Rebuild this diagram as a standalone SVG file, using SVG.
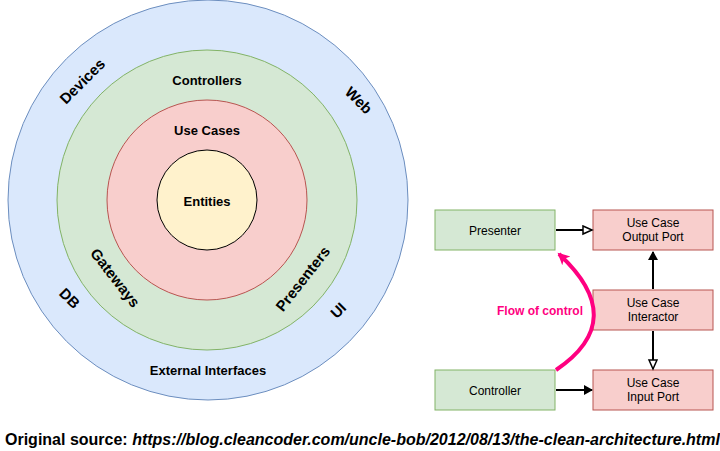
<svg xmlns="http://www.w3.org/2000/svg" width="720" height="451" viewBox="0 0 720 451">
<style>
text{font-family:"Liberation Sans",Arial,sans-serif;font-size:12px;fill:#000;text-anchor:middle}
.b{font-weight:bold;font-size:13px}
.o{font-weight:bold;font-size:15px}
.g{fill:#d5e8d4;stroke:#82b366}
.r{fill:#f8cecc;stroke:#b85450}
.ln{stroke:#000;stroke-width:2;fill:none}
</style>
<defs>
<marker id="af" markerWidth="10" markerHeight="10" refX="8" refY="5" orient="auto" markerUnits="userSpaceOnUse"><path d="M0,0 L9,5 L0,10 Z" fill="#000"/></marker>
<marker id="ao" markerWidth="12" markerHeight="12" refX="10" refY="5" orient="auto" markerUnits="userSpaceOnUse"><path d="M1,1 L10,5 L1,9 Z" fill="#fff" stroke="#000" stroke-width="1.5"/></marker>
<marker id="ap" markerWidth="14" markerHeight="14" refX="10" refY="6" orient="auto" markerUnits="userSpaceOnUse"><path d="M0,0 L12,6 L0,12 L3,6 Z" fill="#ff0080"/></marker>
</defs>
<g id="rings">
<circle cx="208" cy="200" r="200" fill="#dae8fc" stroke="#6c8ebf"/>
<circle cx="207" cy="200" r="150" fill="#d5e8d4" stroke="#82b366"/>
<circle cx="207" cy="200" r="100" fill="#f8cecc" stroke="#b85450"/>
<circle cx="207" cy="200" r="50" fill="#fff2cc" stroke="#000"/>
<text class="b" x="207" y="85">Controllers</text>
<text class="b" x="207" y="135">Use Cases</text>
<text class="b" x="207" y="206">Entities</text>
<text class="b" x="208" y="375">External Interfaces</text>
<text class="o" transform="translate(86,85) rotate(-45)">Devices</text>
<text class="o" transform="translate(355,104) rotate(45)">Web</text>
<text class="o" transform="translate(66,302) rotate(45)">DB</text>
<text class="o" transform="translate(342,314) rotate(-45)">UI</text>
<text class="o" transform="translate(111,281) rotate(52)">Gateways</text>
<text class="o" transform="translate(307,282) rotate(-52)">Presenters</text>
</g>
<g id="presenter"><rect class="g" x="435" y="210" width="120" height="40"/><text x="495" y="235">Presenter</text></g>
<g id="outport"><rect class="r" x="593" y="210" width="120" height="40"/><text x="653" y="227">Use Case</text><text x="653" y="241">Output Port</text></g>
<g id="interactor"><rect class="r" x="593" y="290" width="120" height="40"/><text x="653" y="307">Use Case</text><text x="653" y="321">Interactor</text></g>
<g id="controller"><rect class="g" x="435" y="370" width="120" height="40"/><text x="495" y="395">Controller</text></g>
<g id="inport"><rect class="r" x="593" y="370" width="120" height="40"/><text x="653" y="387">Use Case</text><text x="653" y="401">Input Port</text></g>
<g id="connectors">
<line class="ln" x1="556" y1="230" x2="592" y2="230" marker-end="url(#ao)"/>
<line class="ln" x1="556" y1="390" x2="592" y2="390" marker-end="url(#af)"/>
<line class="ln" x1="653" y1="289" x2="653" y2="252" marker-end="url(#af)"/>
<line class="ln" x1="653" y1="331" x2="653" y2="369" marker-end="url(#ao)"/>
<path d="M556,370 Q630,320 559,254" stroke="#ff0080" stroke-width="4" fill="none" marker-end="url(#ap)"/>
<text x="540" y="315" style="fill:#ff0080;font-weight:bold">Flow of control</text>
</g>
<text x="5" y="445" style="text-anchor:start;font-weight:bold;font-size:16px">Original source: <tspan font-style="italic">https://blog.cleancoder.com/uncle-bob/2012/08/13/the-clean-architecture.html</tspan></text>
</svg>
